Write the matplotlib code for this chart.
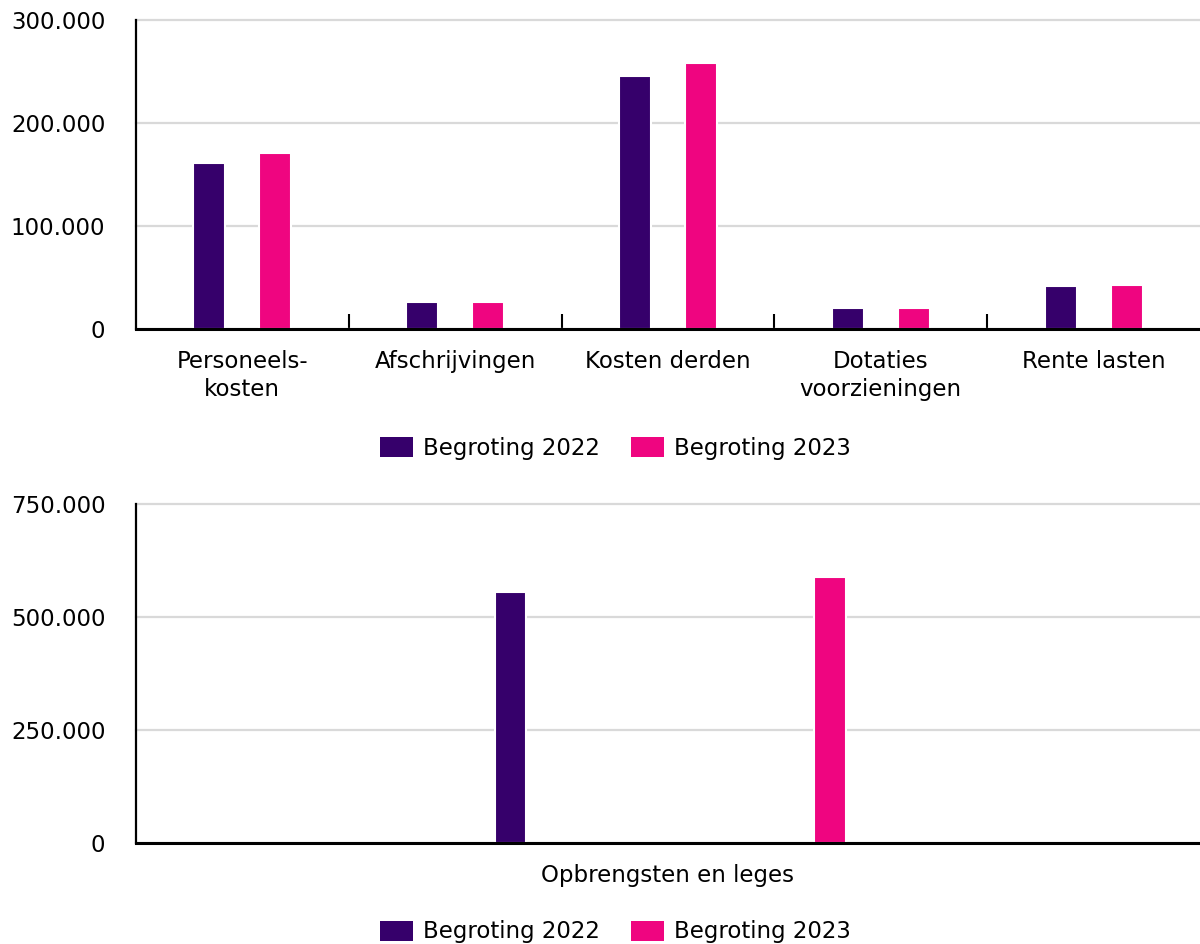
import numpy as np
import matplotlib.pyplot as plt
from matplotlib.ticker import FuncFormatter, FixedLocator
from matplotlib.patches import Patch

# data
categories = ['Personeels-\nkosten', 'Afschrijvingen', 'Kosten derden',
              'Dotaties\nvoorzieningen', 'Rente lasten']
lasten_2022 = [161500, 26000, 246000, 20000, 41500]
lasten_2023 = [171000, 26000, 258000, 20000, 43000]

baten_cat = ['Opbrengsten en leges']
baten_2022 = [556000]
baten_2023 = [588000]

series = ['Begroting 2022', 'Begroting 2023']
colors = ['#36006b', '#ef0580']

plt.rcParams['font.family'] = ['DejaVu Sans']
plt.rcParams['font.size'] = 16.5

fmt = FuncFormatter(lambda v, p: f'{int(v):,}'.replace(',', '.'))


def style_axes(ax, ymax, ystep):
    ax.set_ylim(0, ymax)
    ax.set_yticks(np.arange(0, ymax + 1, ystep))
    ax.yaxis.set_major_formatter(fmt)
    ax.grid(axis='y', color='#d9d9d9', linewidth=1.6, zorder=0)
    for gl in ax.get_ygridlines():
        gl.set_clip_on(False)
    ax.set_axisbelow(True)
    for s in ['top', 'right']:
        ax.spines[s].set_visible(False)
    ax.spines['left'].set_linewidth(1.6)
    ax.spines['bottom'].set_linewidth(2.2)
    ax.tick_params(axis='y', length=0, pad=22)
    ax.tick_params(axis='x', which='major', length=0, pad=15)


fig = plt.figure(figsize=(12, 9.44), dpi=100)

# top chart: lasten
ax1 = fig.add_axes([0.1133, 0.6515, 0.8867, 0.3273])
x = np.arange(len(categories))
ax1.bar(x - 0.155, lasten_2022, width=0.15, color=colors[0], edgecolor='white', linewidth=1.5, zorder=2)
ax1.bar(x + 0.155, lasten_2023, width=0.15, color=colors[1], edgecolor='white', linewidth=1.5, zorder=2)
ax1.set_xlim(-0.5, len(categories) - 0.5)
style_axes(ax1, 300000, 100000)
ax1.set_xticks(x)
ax1.set_xticklabels(categories, linespacing=1.3)
ax1.xaxis.set_minor_locator(FixedLocator(np.arange(0.5, len(categories) - 1, 1)))
ax1.tick_params(axis='x', which='minor', direction='in', length=11, width=1.5)

# bottom chart: baten
ax2 = fig.add_axes([0.1133, 0.1070, 0.8867, 0.3591])
xb = np.arange(len(baten_cat))
ax2.bar(xb - 0.148, baten_2022, width=0.030, color=colors[0], edgecolor='white', linewidth=1.5, zorder=2)
ax2.bar(xb + 0.152, baten_2023, width=0.030, color=colors[1], edgecolor='white', linewidth=1.5, zorder=2)
ax2.set_xlim(-0.5, 0.5)
style_axes(ax2, 750000, 250000)
ax2.set_xticks(xb)
ax2.set_xticklabels(baten_cat)

handles = [Patch(facecolor=c, edgecolor='none') for c in colors]
for ypos in [0.5254, 0.0128]:
    fig.legend(handles, series, loc='center', bbox_to_anchor=(0.513, ypos), ncol=2,
               frameon=False, handlelength=1.43, handleheight=0.96,
               handletextpad=0.45, columnspacing=1.35, borderpad=0)

fig.savefig('out.png', dpi=100)
